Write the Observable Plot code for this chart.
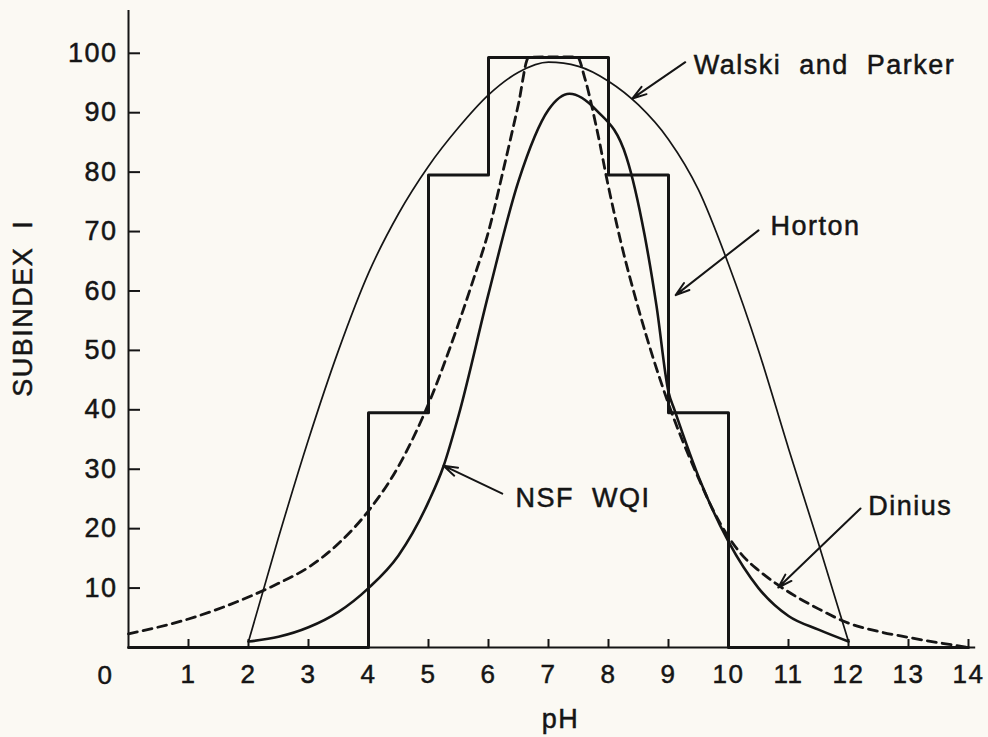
<!DOCTYPE html>
<html>
<head>
<meta charset="utf-8">
<script src="https://cdn.jsdelivr.net/npm/d3@7"></script>
<script src="https://cdn.jsdelivr.net/npm/@observablehq/plot@0.6"></script>
<style>
  html, body { margin: 0; padding: 0; background: #fbf9f3; }
  #chart svg { display: block; }
  #chart svg text { letter-spacing: 1.5px; word-spacing: 9px; stroke: #151515; stroke-width: 0.5px; }
</style>
</head>
<body>
<div id="chart"></div>
<script>
// ---- axis ticks ----
const xTicks = [1,2,3,4,5,6,7,8,9,10,11,12,13,14];
const yTicks = [10,20,30,40,50,60,70,80,90,100];

// ---- Horton (step function) ----
const hortonX = [0, 4, 5, 6, 8, 9, 10, 14];
const hortonY = [0, 39.5, 79.5, 99.3, 79.5, 39.5, 0, 0];

// ---- Walski and Parker (thin solid) ----
const walskiX = [2, 2.5, 3, 3.5, 4, 4.5, 5, 5.5, 6, 6.5, 7, 7.5, 8, 8.5, 9, 9.5, 10, 10.5, 11, 11.5, 12];
const walskiY = [1, 18.5, 35, 50, 63, 73, 81, 87.5, 93, 96.8, 98.5, 97.8, 95.3, 91.3, 85.5, 77, 64.5, 50, 33.5, 17.5, 1];

// ---- NSF WQI (solid) ----
const nsfX = [2, 2.5, 3, 3.5, 4, 4.5, 5, 5.25, 5.5, 6, 6.5, 7, 7.35, 7.8, 8.3, 8.6, 8.8, 9, 9.1, 9.55, 10, 10.5, 11, 11.5, 12];
const nsfY = [1, 1.8, 3.4, 6, 10, 15.5, 24.5, 30.5, 39, 59.5, 78.5, 90.5, 93.2, 90.4, 82.5, 69.5, 57.5, 43, 40, 27.5, 17.8, 10, 5.3, 3, 1];

// ---- Dinius (dashed) ----
const diniusX = [0, 1, 2, 2.5, 3, 3.5, 4, 4.5, 5, 5.5, 5.75, 6, 6.25, 6.5, 6.67, 7, 7.48, 7.6, 7.8, 8, 8.2, 8.5, 9, 9.5, 9.75, 10, 10.25, 10.5, 10.8, 11.5, 12, 12.5, 13, 14];
const diniusY = [2.3, 4.8, 8.5, 10.8, 13.5, 17.5, 23, 30.5, 41, 54.5, 62, 70, 80.5, 91.5, 99.3, 99.4, 99.4, 96, 87.5, 77.5, 68.5, 57, 41, 28.5, 23, 18.6, 15.3, 13, 10.7, 6.5, 4.1, 2.7, 1.7, 0];

// ---- annotations ----
const labels = ["Walski and Parker", "Horton", "NSF WQI", "Dinius"];
const labelX = [9.42, 10.7, 6.45, 12.33];
const labelY = [98.0, 70.9, 25.1, 23.7];
const arrowX1 = [9.28, 10.5, 6.23, 12.2];
const arrowY1 = [98.5, 70.2, 25.9, 23.4];
const arrowX2 = [8.4, 9.12, 5.25, 10.83];
const arrowY2 = [92.4, 59.3, 30.6, 10.1];

const ink = "#151515";
const font = "'Liberation Sans', Arial, Helvetica, sans-serif";
const pts = (xs, ys) => xs.map((x, i) => ({x, y: ys[i]}));

const chart = Plot.plot({
  width: 988,
  height: 737,
  marginLeft: 128,
  marginRight: 20,
  marginTop: 10,
  marginBottom: 90,
  x: {domain: [0, 14]},
  y: {domain: [0, 107.2]},
  style: {background: "transparent", color: ink, fontFamily: font},
  marks: [
    // axes lines
    Plot.ruleX([0], {stroke: ink, strokeWidth: 2}),
    Plot.ruleY([0], {x1: 0, x2: 14.12, stroke: ink, strokeWidth: 2}),
    // inward ticks
    Plot.ruleY(yTicks, {y: d => d, x1: 0, x2: 0.2, stroke: ink, strokeWidth: 2}),
    Plot.ruleX(xTicks, {x: d => d, y1: 0, y2: 1.35, stroke: ink, strokeWidth: 2}),
    // tick labels
    Plot.axisY(yTicks, {tickSize: 0, tickPadding: 11, fontSize: 27, label: null}),
    Plot.axisX(xTicks, {tickSize: 0, tickPadding: 17, fontSize: 26, label: null}),
    Plot.text(["0"], {x: 0, y: 0, dx: -23, dy: 28, fontSize: 26, text: d => d}),
    // axis titles
    Plot.text(["pH"], {x: 7.2, y: -12.1, text: d => d, fontSize: 27}),
    Plot.text(["SUBINDEX I"], {x: -1.75, y: 57.1, text: d => d, fontSize: 27, rotate: -90}),
    // curves
    Plot.line(pts(hortonX, hortonY), {x: "x", y: "y", curve: "step-after", stroke: ink, strokeWidth: 3}),
    Plot.line(pts(walskiX, walskiY), {x: "x", y: "y", curve: "monotone-x", stroke: ink, strokeWidth: 1.7}),
    Plot.line(pts(nsfX, nsfY), {x: "x", y: "y", curve: "monotone-x", stroke: ink, strokeWidth: 2.6}),
    Plot.line(pts(diniusX, diniusY), {x: "x", y: "y", curve: "monotone-x", stroke: ink, strokeWidth: 2.8, strokeDasharray: "9,6"}),
    // annotation arrows and labels
    Plot.arrow(labels, {x1: arrowX1, y1: arrowY1, x2: arrowX2, y2: arrowY2, stroke: ink, strokeWidth: 2, headLength: 11, headAngle: 35}),
    Plot.text(labels, {x: labelX, y: labelY, text: labels, textAnchor: "start", fontSize: 27})
  ]
});
document.getElementById("chart").appendChild(chart);
</script>
</body>
</html>
